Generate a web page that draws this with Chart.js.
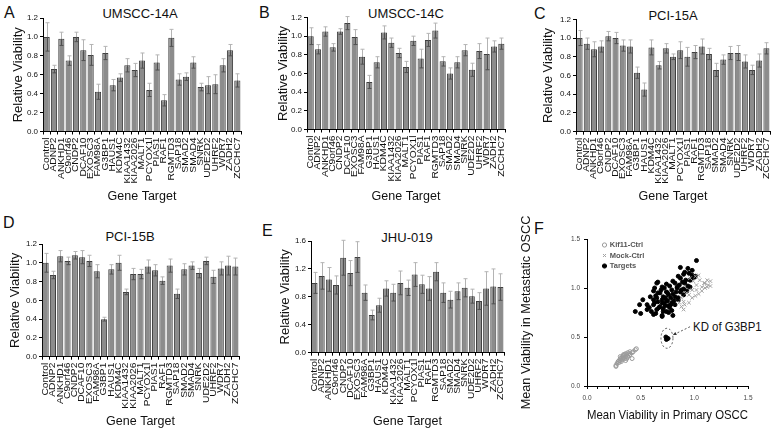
<!DOCTYPE html>
<html>
<head>
<meta charset="utf-8">
<script src="https://cdn.jsdelivr.net/npm/chart.js@4.4.1/dist/chart.umd.min.js"></script>
<style>
  html, body { margin:0; padding:0; background:#fff; }
  body { width:775px; height:433px; position:relative; overflow:hidden; font-family:"Liberation Sans", Arial, sans-serif; color:#111; }
  canvas { position:absolute; }
  .lbl { position:absolute; font-size:16px; line-height:16px; }
  .ttl { position:absolute; font-size:13px; line-height:16px; transform:translateX(-50%); white-space:nowrap; }
  .ann { position:absolute; font-size:13px; line-height:16px; white-space:nowrap; transform:scaleX(0.88); transform-origin:left center; }
</style>
</head>
<body>
<div class="lbl" style="left:4px;top:5px">A</div>
<div class="lbl" style="left:259px;top:5px">B</div>
<div class="lbl" style="left:534px;top:6px">C</div>
<div class="lbl" style="left:3px;top:215px">D</div>
<div class="lbl" style="left:262px;top:223px">E</div>
<div class="lbl" style="left:534px;top:221px">F</div>

<div class="ttl" style="left:140px;top:6px">UMSCC-14A</div>
<div class="ttl" style="left:406px;top:6px">UMSCC-14C</div>
<div class="ttl" style="left:673px;top:8px">PCI-15A</div>
<div class="ttl" style="left:130px;top:229px">PCI-15B</div>
<div class="ttl" style="left:407px;top:230px">JHU-019</div>
<div class="ann" style="left:693px;top:319px">KD of G3BP1</div>

<canvas id="cA" width="255" height="215" style="left:0px;top:0px;width:255px;height:215px"></canvas>
<canvas id="cB" width="265" height="215" style="left:255px;top:0px;width:265px;height:215px"></canvas>
<canvas id="cC" width="275" height="215" style="left:510px;top:0px;width:275px;height:215px"></canvas>
<canvas id="cD" width="255" height="218" style="left:0px;top:215px;width:255px;height:218px"></canvas>
<canvas id="cE" width="265" height="218" style="left:255px;top:215px;width:265px;height:218px"></canvas>
<canvas id="cF" width="265" height="218" style="left:510px;top:215px;width:265px;height:218px"></canvas>

<script>
// ---------- DATA ----------
const categories = ['Control','ADNP2','ANKHD1','C9orf46','CNDP2','DCAF10','EXOSC3','FAM98A','G3BP1','HAUS1','KDM4C','KIAA1432','KIAA2026','MALT1','PCYOX1l','PIAS1','RAF1','RGMTD3','SAP18','SMAD2','SMAD4','SNRK','UDE2D2','UHRF2','WDR7','ZADH2','ZCCHC7'];

const umscc14aMean = [1.00,0.66,0.98,0.75,1.00,0.86,0.81,0.42,0.83,0.49,0.57,0.70,0.65,0.75,0.44,0.73,0.33,0.99,0.55,0.58,0.73,0.47,0.49,0.50,0.70,0.86,0.54];
const umscc14aErr  = [0.15,0.04,0.07,0.05,0.05,0.11,0.11,0.08,0.07,0.06,0.04,0.07,0.07,0.08,0.07,0.08,0.06,0.09,0.06,0.04,0.06,0.04,0.09,0.10,0.07,0.06,0.07];

const umscc14cMean = [1.00,0.86,1.05,0.88,1.05,1.14,0.99,0.78,0.51,0.72,1.04,0.93,0.82,0.67,0.95,0.76,0.96,1.06,0.73,0.60,0.72,0.85,0.64,0.84,0.81,0.89,0.92];
const umscc14cErr  = [0.09,0.05,0.05,0.04,0.03,0.07,0.08,0.08,0.07,0.06,0.07,0.05,0.05,0.06,0.05,0.10,0.07,0.08,0.05,0.06,0.06,0.06,0.07,0.08,0.17,0.06,0.06];

const pci15aMean = [1.00,0.94,0.88,0.91,1.02,1.00,0.92,0.91,0.63,0.45,0.90,0.71,0.89,0.80,0.87,0.80,0.85,0.91,0.83,0.66,0.77,0.84,0.84,0.75,0.66,0.76,0.89];
const pci15aErr  = [0.08,0.06,0.08,0.06,0.05,0.06,0.06,0.07,0.06,0.07,0.08,0.04,0.05,0.03,0.09,0.10,0.07,0.08,0.06,0.07,0.05,0.07,0.08,0.07,0.05,0.07,0.06];

const pci15bMean = [1.00,0.87,1.07,1.02,1.08,1.06,1.02,0.91,0.40,0.93,1.00,0.69,0.88,0.88,0.96,0.92,0.81,0.97,0.67,0.93,0.97,0.89,1.02,0.85,0.94,0.97,0.96];
const pci15bErr  = [0.10,0.04,0.06,0.04,0.04,0.07,0.06,0.07,0.02,0.05,0.08,0.03,0.06,0.05,0.07,0.06,0.04,0.07,0.05,0.06,0.04,0.05,0.04,0.07,0.07,0.10,0.09];

const jhu019Mean = [1.00,1.10,1.05,0.97,1.36,1.14,1.37,0.86,0.54,0.68,0.92,0.86,1.00,0.93,1.12,0.98,0.92,1.16,0.86,0.76,0.88,0.93,0.81,0.74,0.92,0.95,0.94];
const jhu019Err  = [0.15,0.19,0.17,0.13,0.25,0.18,0.22,0.11,0.07,0.10,0.11,0.12,0.17,0.11,0.17,0.13,0.17,0.13,0.14,0.12,0.12,0.13,0.10,0.12,0.24,0.25,0.19];

const ticks12 = [0.0,0.2,0.4,0.6,0.8,1.0,1.2];
const ticks16 = [0.0,0.4,0.8,1.2,1.6];
const ticksF  = [0.0,0.5,1.0,1.5];

// Panel F: [primary, metastatic]
const kif11Ctrl = [[0.27,0.20],[0.27,0.21],[0.28,0.23],[0.29,0.25],[0.30,0.24],[0.30,0.26],[0.31,0.26],[0.31,0.28],[0.32,0.28],[0.32,0.25],[0.33,0.30],[0.33,0.27],[0.34,0.29],[0.34,0.31],[0.35,0.28],[0.35,0.32],[0.36,0.30],[0.36,0.33],[0.37,0.32],[0.37,0.28],[0.38,0.34],[0.38,0.30],[0.39,0.33],[0.40,0.32],[0.40,0.35],[0.42,0.34],[0.42,0.28],[0.43,0.35],[0.45,0.37],[0.46,0.38],[0.34,0.32],[0.31,0.30],[0.36,0.26]];
const mockCtrl = [[0.90,0.78],[0.91,0.83],[0.95,0.85],[0.98,0.90],[1.01,0.92],[1.04,0.94],[1.07,0.97],[1.10,1.00],[1.13,1.03],[1.15,1.07],[1.12,1.08],[1.09,1.05],[1.05,1.08],[1.02,1.03],[0.99,1.07],[0.98,0.98],[0.93,0.95],[0.88,0.90],[0.86,0.85],[0.90,0.86],[1.02,0.98],[1.07,1.01],[1.10,1.05],[1.12,1.01],[0.96,1.10],[1.01,1.12],[1.04,1.13],[1.15,1.02],[0.95,0.93],[0.88,0.81]];
const targets = [[1.02,1.28],[0.87,1.21],[0.94,1.20],[0.90,1.14],[0.85,1.12],[0.98,1.13],[1.00,1.11],[0.80,1.07],[0.65,1.05],[0.74,1.04],[0.70,1.01],[0.84,1.01],[0.91,1.05],[0.96,1.08],[0.62,0.97],[0.66,0.95],[0.74,0.96],[0.79,0.98],[0.87,0.96],[0.90,0.99],[0.96,1.01],[0.59,0.91],[0.65,0.90],[0.71,0.91],[0.76,0.93],[0.82,0.91],[0.85,0.90],[0.63,0.85],[0.70,0.85],[0.74,0.87],[0.79,0.85],[0.52,0.88],[0.56,0.83],[0.62,0.83],[0.68,0.81],[0.73,0.82],[0.77,0.80],[0.82,0.83],[0.65,0.78],[0.71,0.76],[0.76,0.75],[0.62,0.73],[0.80,0.72],[0.70,0.71],[0.45,0.76],[0.50,0.74],[0.49,0.83],
  [0.62,0.88],[0.64,0.92],[0.66,0.86],[0.68,0.95],[0.70,0.88],[0.72,0.84],[0.73,0.90],[0.75,0.87],[0.76,0.82],[0.78,0.90],[0.80,0.94],[0.81,0.87],[0.83,0.96],[0.84,1.00],[0.86,1.03],[0.88,0.98],[0.89,1.06],[0.92,1.08],[0.94,1.02],[0.97,1.09],[0.99,1.12],[0.58,0.80],[0.60,0.76],[0.56,0.78],[0.67,0.80],[0.71,0.79],[0.74,0.76],[0.78,0.83],[0.69,0.98],[0.63,1.00],[0.66,1.06],[0.72,1.00],[0.77,1.02],[0.82,1.05],[0.87,1.10],[0.91,1.16],[0.95,1.15],[0.98,1.18],[1.01,1.12],[0.93,0.97],[0.75,0.95],[0.70,0.72],[0.64,0.74],[0.79,0.77],[0.85,0.88],[0.90,0.93],
  [0.735,0.50],[0.755,0.485],[0.74,0.475]];
const g3bp1Ring = {x:0.745, y:0.487};
const arrowFrom = {x:0.96, y:0.605};
const arrowTo = {x:0.80, y:0.52};

// ---------- RENDERING ----------
Chart.defaults.font.family = '"Liberation Sans", Arial, sans-serif';
Chart.defaults.color = '#1a1a1a';

const errorBars = {
  id: 'errorBars',
  afterDatasetsDraw(chart) {
    const ctx = chart.ctx, ys = chart.scales.y, ds = chart.data.datasets[0];
    const meta = chart.getDatasetMeta(0);
    ctx.save();
    ctx.lineWidth = 1;
    meta.data.forEach((bar, i) => {
      const v = ds.data[i], e = ds.errors[i];
      const x = Math.round(bar.x) + 0.5;
      const yT = ys.getPixelForValue(v + e), yB = ys.getPixelForValue(v - e), yV = ys.getPixelForValue(v);
      ctx.strokeStyle = '#b4b4b4';
      ctx.beginPath(); ctx.moveTo(x, yV); ctx.lineTo(x, yT); ctx.moveTo(x - 2, yT); ctx.lineTo(x + 2, yT); ctx.stroke();
      ctx.strokeStyle = '#505050';
      ctx.beginPath(); ctx.moveTo(x, yV); ctx.lineTo(x, yB); ctx.moveTo(x - 2, yB); ctx.lineTo(x + 2, yB); ctx.stroke();
    });
    ctx.restore();
  }
};

// stretch the rotated category labels along their length (as in the original figure)
const tallLabels = {
  id: 'tallLabels',
  beforeDraw(chart) {
    const sx = chart.scales.x;
    if (!sx || sx._tallPatched) return;
    const orig = sx.drawLabels.bind(sx);
    sx.drawLabels = function (area) {
      const ctx = this.ctx, y0 = this.top;
      ctx.save();
      ctx.translate(0, y0); ctx.scale(1, 1.2); ctx.translate(0, -y0);
      orig(area);
      ctx.restore();
    };
    sx._tallPatched = true;
  }
};

function barChart(id, mean, err, yTicks, cfg) {
  const cv = document.getElementById(id);
  const W = cv.width, H = cv.height;
  const pl = cfg.yTitleX - 7.8;
  const pb = H - cfg.xTitleY - 7.2;
  const pr = W - cfg.R, pt = cfg.T;
  const yW = cfg.L - pl, xH = (H - pb) - cfg.B;
  const yMax = yTicks[yTicks.length - 1];
  return new Chart(cv, {
    type: 'bar',
    data: { labels: categories, datasets: [{ data: mean, errors: err, backgroundColor: '#8c8c8c', borderColor: '#3e3e3e', borderWidth: 1, barPercentage: 0.84, categoryPercentage: 1 }] },
    options: {
      responsive: false, animation: false, devicePixelRatio: 1,
      layout: { padding: { left: pl, right: pr, top: pt, bottom: pb } },
      plugins: { legend: { display: false }, tooltip: { enabled: false }, title: { display: false } },
      scales: {
        x: {
          grid: { drawOnChartArea: false, drawTicks: true, tickLength: 3, color: '#000' },
          border: { color: '#000', width: 1 },
          ticks: { autoSkip: false, maxRotation: 90, minRotation: 90, font: { size: 8.5 }, color: '#111', padding: 2 },
          title: { display: true, text: 'Gene Target', font: { size: 12.5 }, padding: 0, color: '#111' },
          afterFit(s) { s.height = xH; }
        },
        y: {
          min: 0, max: yMax,
          afterBuildTicks(s) { s.ticks = yTicks.map(v => ({ value: v })); },
          ticks: { callback: v => Number(v).toFixed(1), font: { size: 8 }, color: '#111', padding: 2 },
          grid: { drawOnChartArea: false, drawTicks: true, tickLength: 3, color: '#000' },
          border: { color: '#000', width: 1 },
          title: { display: true, text: 'Relative Viability', font: { size: 13 }, padding: 0, color: '#111' },
          afterFit(s) { s.width = yW; }
        }
      }
    },
    plugins: [errorBars, tallLabels]
  });
}

barChart('cA', umscc14aMean, umscc14aErr, ticks12, { L: 43, R: 241, T: 18, B: 131.5, yTitleX: 18, xTitleY: 197 });
barChart('cB', umscc14cMean, umscc14cErr, ticks12, { L: 52, R: 250, T: 17.5, B: 129.5, yTitleX: 28, xTitleY: 196.7 });
barChart('cC', pci15aMean, pci15aErr, ticks12, { L: 66, R: 260, T: 19.3, B: 131.7, yTitleX: 38, xTitleY: 196.7 });
barChart('cD', pci15bMean, pci15bErr, ticks12, { L: 42, R: 239, T: 29, B: 141.7, yTitleX: 15, xTitleY: 206.7 });
barChart('cE', jhu019Mean, jhu019Err, ticks16, { L: 56, R: 249, T: 26, B: 137.7, yTitleX: 30, xTitleY: 206.7 });

// ---------- Panel F ----------
const annot = {
  id: 'annot',
  afterLayout(chart) {
    const L = chart.legend, ca = chart.chartArea;
    if (!L) return;
    const w = L.width, h = L.height;
    L.left = ca.left + 13; L.right = L.left + w;
    L.top = ca.top - 0.75; L.bottom = L.top + h;
  },
  afterDatasetsDraw(chart) {
    const ctx = chart.ctx, xs = chart.scales.x, ys = chart.scales.y;
    const cx = xs.getPixelForValue(g3bp1Ring.x), cy = ys.getPixelForValue(g3bp1Ring.y);
    ctx.save();
    ctx.strokeStyle = '#333'; ctx.lineWidth = 0.8; ctx.setLineDash([2, 2]);
    ctx.beginPath(); ctx.ellipse(cx, cy, 6, 10, 0, 0, Math.PI * 2); ctx.stroke();
    const x1 = xs.getPixelForValue(arrowFrom.x), y1 = ys.getPixelForValue(arrowFrom.y);
    const x2 = xs.getPixelForValue(arrowTo.x), y2 = ys.getPixelForValue(arrowTo.y);
    ctx.beginPath(); ctx.moveTo(x1, y1); ctx.lineTo(x2, y2); ctx.stroke();
    ctx.setLineDash([]);
    const a = Math.atan2(y2 - y1, x2 - x1);
    ctx.fillStyle = '#333';
    ctx.beginPath();
    ctx.moveTo(x2, y2);
    ctx.lineTo(x2 - 4 * Math.cos(a - 0.45), y2 - 4 * Math.sin(a - 0.45));
    ctx.lineTo(x2 - 4 * Math.cos(a + 0.45), y2 - 4 * Math.sin(a + 0.45));
    ctx.closePath(); ctx.fill();
    ctx.restore();
  }
};

(function () {
  const cv = document.getElementById('cF');
  const W = cv.width, H = cv.height;
  const L = 77, R = 238, T = 24, B = 171;
  const pl = 17 - 7.8, pb = H - 200 - 7.8;
  const yW = L - pl, xH = (H - pb) - B;
  const toXY = arr => arr.map(p => ({ x: p[0], y: p[1] }));
  new Chart(cv, {
    type: 'scatter',
    data: {
      datasets: [
        { label: 'Kif11-Ctrl', data: toXY(kif11Ctrl), pointStyle: 'circle', pointRadius: 2, borderColor: '#9a9a9a', backgroundColor: 'rgba(255,255,255,0)', borderWidth: 1 },
        { label: 'Mock-Ctrl', data: toXY(mockCtrl), pointStyle: 'crossRot', pointRadius: 2.5, borderColor: '#a3a3a3', backgroundColor: '#a3a3a3', borderWidth: 1 },
        { label: 'Targets', data: toXY(targets), pointStyle: 'circle', pointRadius: 2, borderColor: '#000', backgroundColor: '#000', borderWidth: 1 }
      ]
    },
    options: {
      responsive: false, animation: false, devicePixelRatio: 1,
      layout: { padding: { left: pl, right: W - R, top: T, bottom: pb } },
      plugins: {
        tooltip: { enabled: false },
        legend: {
          display: true, position: 'chartArea', align: 'start',
          labels: { usePointStyle: true, boxWidth: 3, boxHeight: 3, font: { size: 7.5, weight: 'bold' }, color: '#555', padding: 3 }
        }
      },
      scales: {
        x: {
          type: 'linear', min: 0, max: 1.5,
          afterBuildTicks(s) { const t = []; for (let i = 0; i <= 15; i++) t.push({ value: i / 10 }); s.ticks = t; },
          ticks: { autoSkip: false, maxRotation: 0, callback: (v) => { const k = Math.round(v * 10); return k % 5 === 0 ? (k / 10).toFixed(1) : ''; }, font: { size: 6.5 }, color: '#444', padding: 5 },
          grid: { drawOnChartArea: false, drawTicks: true, tickLength: 3, color: '#000' },
          border: { color: '#000' },
          title: { display: true, text: 'Mean Viability in Primary OSCC', font: { size: 13 }, padding: 0, color: '#111' },
          afterFit(s) { s.height = xH; }
        },
        y: {
          type: 'linear', min: 0, max: 1.5,
          afterBuildTicks(s) { s.ticks = ticksF.map(v => ({ value: v })); },
          ticks: { callback: v => Number(v).toFixed(1), font: { size: 6.5 }, color: '#444', padding: 4 },
          grid: { drawOnChartArea: false, drawTicks: true, tickLength: 3, color: '#000' },
          border: { color: '#000' },
          title: { display: true, text: 'Mean Viability in Metastatic OSCC', font: { size: 12.7 }, padding: 0, color: '#111' },
          afterFit(s) { s.width = yW; }
        }
      }
    },
    plugins: [annot]
  });
})();
</script>
</body>
</html>
